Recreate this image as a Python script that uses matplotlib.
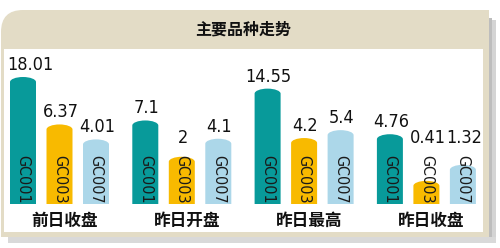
import numpy as np
import matplotlib.pyplot as plt
from matplotlib.patches import FancyBboxPatch, Rectangle, PathPatch
from matplotlib.path import Path

plt.rcParams['font.family'] = ['Noto Sans CJK SC', 'DejaVu Sans']

# data
title = '主要品种走势'
groups = ['前日收盘', '昨日开盘', '昨日最高', '昨日收盘']
codes = ['GC001', 'GC003', 'GC007']
gc001 = [18.01, 7.1, 14.55, 4.76]
gc003 = [6.37, 2, 4.2, 0.41]
gc007 = [4.01, 4.1, 5.4, 1.32]
series = [gc001, gc003, gc007]
colors = ['#089a9a', '#f8ba00', '#acd7e9']

W, H = 500, 248
fig = plt.figure(figsize=(W / 100, H / 100), dpi=100)

# background panel, pixel coords from top-left
bg = fig.add_axes([0, 0, 1, 1])
bg.set_xlim(0, W)
bg.set_ylim(H, 0)
bg.axis('off')
bg.add_patch(Rectangle((491, 20), 5, 223, color='#d4d4d4', lw=0))
bg.add_patch(Rectangle((489, 18), 3, 224, color='#bdbdbd', lw=0))
bg.add_patch(Rectangle((8, 237), 488, 6, color='#d9d9d9', lw=0))
beige = '#e3dcc6'
bg.add_patch(FancyBboxPatch((1, 10), 488, 227, boxstyle='round,pad=0,rounding_size=22',
                            color=beige, lw=0))
bg.add_patch(Rectangle((25, 10), 464, 227, color=beige, lw=0))
bg.add_patch(Rectangle((1, 34), 488, 203, color=beige, lw=0))
bg.add_patch(Rectangle((4, 49), 479, 183, color='white', lw=0))
bg.text(243, 30, title, ha='center', va='center', fontsize=11.5, fontweight='bold',
        color='#111111')

# bar axes: baseline at 204px from top, 18.01 reaches 127px up
base_px = H - 204
ax_h = 170
ax = fig.add_axes([0, base_px / H, 1, ax_h / H])
ax.patch.set_alpha(0)
ax.axis('off')
p = 0.45
ax.set_yscale('function', functions=(lambda v: np.power(np.clip(v, 0, None), p),
                                     lambda v: np.power(np.clip(v, 0, None), 1 / p)))
ymax = (max(gc001) ** p * ax_h / 127) ** (1 / p)
ax.set_ylim(0, ymax)
ax.set_xlim(0, W)

num_font = 'DejaVu Sans'
r = 5
labels = []
for i, (vals, c) in enumerate(zip(series, colors)):
    xs = [23 + g * 122.3 + i * 36.5 for g in range(len(groups))]
    bars = ax.bar(xs, vals, width=26, color=c, lw=0)
    for x, v, rect in zip(xs, vals, bars):
        rect.set_visible(False)
        x0, y0 = ax.transData.transform((rect.get_x(), 0))
        x1, y1 = ax.transData.transform((rect.get_x() + rect.get_width(), v))
        cx, k = (x0 + x1) / 2, 0.5523
        verts = [(x0, y0), (x1, y0), (x1, y1 - r),
                 (x1, y1 - r + k * r), (cx + k * (x1 - x0) / 2, y1), (cx, y1),
                 (cx - k * (x1 - x0) / 2, y1), (x0, y1 - r + k * r), (x0, y1 - r),
                 (x0, y0)]
        codes_p = [Path.MOVETO, Path.LINETO, Path.LINETO,
                   Path.CURVE4, Path.CURVE4, Path.CURVE4,
                   Path.CURVE4, Path.CURVE4, Path.CURVE4, Path.CLOSEPOLY]
        ax.add_patch(PathPatch(Path(verts, codes_p), facecolor=c, lw=0,
                               transform=None, clip_on=False, zorder=2))
        off = max(y1 - y0 + 3, 57) - (y1 - y0)
        t = ax.annotate(f'{v:g}', xy=(x, v), xytext=(1, off), textcoords='offset pixels',
                        ha='center', va='bottom', fontsize=13, family=num_font,
                        fontstretch='condensed', color='#111111', zorder=5)
        labels.append((t, off))
        ax.annotate(codes[i], xy=(x, 0), xytext=(0, 25), textcoords='offset pixels',
                    ha='center', va='center', rotation=270, fontsize=11.5,
                    family=num_font, fontstretch='condensed', color='#1a1a1a',
                    zorder=5)

for g, name in enumerate(groups):
    xm = 23 + g * 122.3 + 36.5 + 5
    ax.annotate(name, xy=(xm, 0), xytext=(0, -17), textcoords='offset pixels',
                ha='center', va='center', fontsize=12, fontweight='bold',
                color='#111111', annotation_clip=False)

# keep value labels inside the white panel
fig.canvas.draw()
rend = fig.canvas.get_renderer()
for t, off in labels:
    bb = t.get_window_extent(rend)
    if bb.x0 < 7:
        t.set_position((1 + 7 - bb.x0, off))

fig.savefig('out.png', dpi=100)
